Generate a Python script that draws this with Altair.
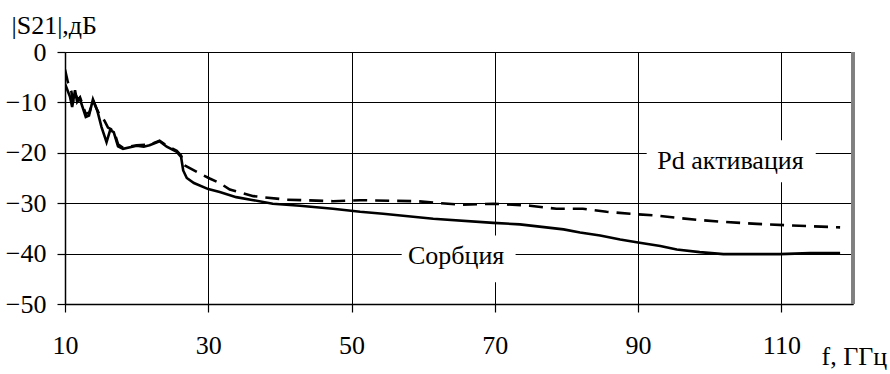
import altair as alt
import pandas as pd

# Сорбция (solid)
sorb_f = [10.0, 10.7, 11.0, 11.4, 11.7, 12.05, 12.9, 13.35, 13.9, 14.5, 15.1, 15.8, 16.3, 16.8,
          17.4, 18.1, 20.0, 21.0, 21.8, 23.2, 24.2, 25.6, 26.2, 26.5, 27.0, 28.0, 30.0, 31.6,
          33.9, 36.3, 39.0, 42.8, 47.4, 51.2, 54.4, 61.4, 69.8, 73.5, 79.6, 81.9, 84.7, 87.5,
          90.0, 93.1, 95.4, 98.6, 101.9, 109.8, 114.0, 118.2]
sorb_s = [-6.3, -8.9, -10.9, -7.6, -9.9, -9.2, -12.9, -12.6, -9.4, -11.6, -14.9, -17.9, -15.5, -15.9,
          -18.7, -19.2, -18.6, -18.8, -18.5, -17.7, -18.8, -19.8, -20.8, -23.5, -25.0, -26.0, -27.2, -27.8,
          -28.8, -29.4, -30.1, -30.5, -31.1, -31.7, -32.1, -33.1, -33.9, -34.2, -35.2, -35.8, -36.4, -37.2,
          -37.8, -38.5, -39.2, -39.7, -40.1, -40.1, -39.9, -39.9]

# Pd активация (dashed)
pd_f = [10.0, 10.4, 10.9, 11.1, 11.4, 11.8, 12.1, 12.9, 13.4, 13.9, 14.4, 15.0, 15.5, 16.0, 16.4,
        16.9, 17.4, 18.1, 20.0, 21.8, 23.2, 24.2, 25.6, 26.2, 26.7, 28.8, 30.2, 31.6, 33.0, 36.3,
        40.9, 47.4, 51.2, 59.1, 65.1, 69.8, 74.9, 78.6, 82.3, 85.6, 88.9, 92.1, 95.4, 98.2, 101.9,
        106.6, 111.2, 118.2]
pd_s = [-3.5, -6.0, -7.9, -10.0, -8.2, -9.5, -9.0, -12.3, -12.0, -9.6, -11.2, -13.0, -13.6, -15.0, -15.3,
        -16.0, -18.3, -19.0, -18.5, -18.4, -17.6, -18.6, -19.6, -20.5, -22.5, -24.1, -25.1, -26.0, -27.3, -28.6,
        -29.3, -29.6, -29.4, -29.6, -30.3, -30.1, -30.5, -31.1, -31.1, -31.7, -32.1, -32.4, -32.9, -33.3, -33.7,
        -34.1, -34.4, -34.8]

x_ticks = [10, 30, 50, 70, 90, 110]
y_ticks = [0, -10, -20, -30, -40, -50]

ann_text = ["Pd активация", "Сорбция"]
ann_x = [102.9, 64.6]
ann_y = [-23.3, -42.0]
box_x1 = [91.2, 57.0]
box_x2 = [114.8, 72.9]
box_y1 = [-17.5, -36.4]
box_y2 = [-25.85, -45.7]

FONT = "'Times New Roman', 'Liberation Serif', 'DejaVu Serif', serif"

sorb = pd.DataFrame({"f": sorb_f, "s": sorb_s})
pdd = pd.DataFrame({"f": pd_f, "s": pd_s})
ann = pd.DataFrame({"t": ann_text, "x": ann_x, "y": ann_y})
box = pd.DataFrame({"x1": box_x1, "x2": box_x2, "y1": box_y1, "y2": box_y2})

xscale = alt.Scale(domain=[10, 120], nice=False, zero=False)
yscale = alt.Scale(domain=[-50, 0], nice=False, zero=False)

xaxis = alt.Axis(values=x_ticks, title="f, ГГц", titleAngle=0, titleX=756, titleY=60,
                 titleAlign="left", titleBaseline="alphabetic", titleFont=FONT,
                 titleFontSize=26, titleFontWeight="normal", titleColor="black",
                 labelFont=FONT, labelFontSize=26, labelColor="black", labelPadding=20,
                 tickColor="black", tickSize=8, tickWidth=1.2,
                 domainColor="black", domainWidth=1.5,
                 grid=True, gridColor="black", gridWidth=1, labelFlush=False)
yaxis = alt.Axis(values=y_ticks, title="|S21|,дБ", titleAngle=0, titleX=-54, titleY=-19,
                 titleAlign="left", titleBaseline="alphabetic", titleFont=FONT,
                 titleFontSize=26, titleFontWeight="normal", titleColor="black",
                 labelFont=FONT, labelFontSize=26, labelColor="black", labelPadding=11,
                 tickColor="black", tickSize=8, tickWidth=1.2,
                 domainColor="black", domainWidth=1.5,
                 grid=True, gridColor="black", gridWidth=1, labelFlush=False)

boxes = alt.Chart(box).mark_rect(color="white").encode(
    x=alt.X("x1:Q", scale=xscale, axis=xaxis), x2="x2:Q",
    y=alt.Y("y1:Q", scale=yscale, axis=yaxis), y2="y2:Q")

line_s = alt.Chart(sorb).mark_line(color="black", strokeWidth=2.6, clip=True).encode(
    x=alt.X("f:Q", scale=xscale), y=alt.Y("s:Q", scale=yscale))
line_p = alt.Chart(pdd).mark_line(color="black", strokeWidth=2.6, strokeDash=[14, 8], clip=True).encode(
    x=alt.X("f:Q", scale=xscale), y=alt.Y("s:Q", scale=yscale))

texts = alt.Chart(ann).mark_text(font=FONT, fontSize=26, color="black", align="center",
                                 baseline="alphabetic").encode(
    x=alt.X("x:Q", scale=xscale), y=alt.Y("y:Q", scale=yscale), text="t:N")

border = alt.Chart(sorb).mark_rule(color="#808080", strokeWidth=2.5).encode(
    x=alt.datum(120, scale=xscale))

chart = alt.layer(boxes, line_s, line_p, texts, border).properties(
    width=788, height=252,
    autosize=alt.AutoSizeParams(type="none"),
    padding={"left": 65, "top": 52, "right": 37, "bottom": 70},
    background="white",
).configure(font=FONT).configure_view(stroke=None)

chart.save("out.html", embed_options={"renderer": "svg", "actions": False})
